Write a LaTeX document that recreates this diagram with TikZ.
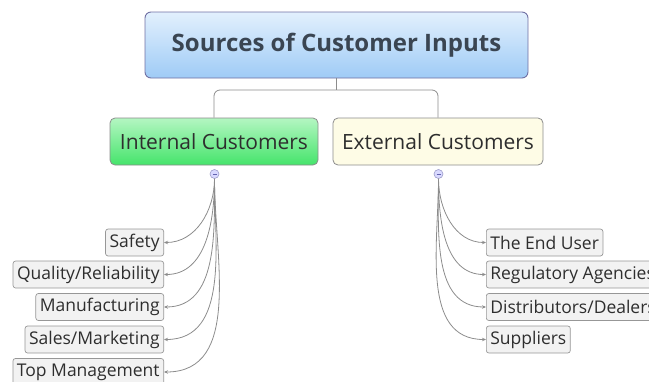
\documentclass[tikz,border=0pt]{standalone}
\usepackage{fontspec}
\setmainfont{Open Sans}
\usetikzlibrary{arrows.meta}
\definecolor{TitleInk}{HTML}{3A4552}
\definecolor{BodyInk}{HTML}{2E2E2E}
\definecolor{SkyTop}{HTML}{E2F0FD}
\definecolor{SkyBottom}{HTML}{9FCBF6}
\definecolor{MintTop}{HTML}{B4F6C2}
\definecolor{MintBottom}{HTML}{45E46B}
\definecolor{Cream}{HTML}{FEFCE6}
\definecolor{LinkGrey}{HTML}{8C8C8C}

\tikzset{
  rootbox/.style={draw=LinkGrey!80!blue, line width=0.9pt, rounded corners=6pt,
    top color=SkyTop, bottom color=SkyBottom,
    minimum width=383pt, minimum height=66pt,
    font=\fontsize{24}{28}\selectfont\bfseries, text=TitleInk},
  groupbox/.style={draw=LinkGrey, line width=0.8pt, rounded corners=5pt,
    minimum height=47pt, inner xsep=7pt,
    font=\fontsize{21}{25}\selectfont, text=BodyInk},
  leafbox/.style={draw=LinkGrey!90, fill=black!5, line width=0.7pt,
    rounded corners=2.5pt, minimum height=27pt, inner xsep=4pt,
    font=\fontsize{17.5}{20}\selectfont, text=BodyInk},
  knob/.style={circle, draw=blue!30!gray!60, fill=blue!15, line width=0.6pt,
    minimum size=9pt, inner sep=0pt},
  link/.style={draw=LinkGrey, line width=0.8pt},
  leaflink/.style={link, -{Stealth[length=4pt,width=3.5pt]}, out=-90, in=0}
}

\begin{document}
\begin{tikzpicture}[x=1pt, y=-1pt]
  \useasboundingbox (0,0) rectangle (649,381);

  % top of the map
  \node[rootbox] (root) at (336.5,45) {Sources of Customer Inputs};

  % the two branches
  \node[groupbox, top color=MintTop, bottom color=MintBottom,
        minimum width=208pt] (internal) at (214,141.5) {Internal Customers};
  \node[groupbox, fill=Cream, minimum width=210pt] (external) at (438,141.5)
        {External Customers};

  \coordinate (split) at (336.5,90);
  \draw[link] (root.south) -- (split);
  \draw[link, rounded corners=6pt] (split) -| (internal.north);
  \draw[link, rounded corners=6pt] (split) -| (external.north);

  % collapse buttons
  \node[knob] (inknob) at (214.5,174) {};
  \node[knob] (exknob) at (438.5,174) {};
  \draw[LinkGrey!70!blue, line width=0.8pt] ([xshift=-2pt]inknob.center) -- ([xshift=2pt]inknob.center);
  \draw[LinkGrey!70!blue, line width=0.8pt] ([xshift=-2pt]exknob.center) -- ([xshift=2pt]exknob.center);

  % internal leaves
  \node[leafbox, anchor=east] (safety)  at (164,242.5) {Safety};
  \node[leafbox, anchor=east] (quality) at (164,274.5) {Quality/Reliability};
  \node[leafbox, anchor=east] (manuf)   at (164,307)   {Manufacturing};
  \node[leafbox, anchor=east] (sales)   at (164,339.5) {Sales/Marketing};
  \node[leafbox, anchor=east] (topmgmt) at (164,372)   {Top Management};

  % external leaves
  \node[leafbox, anchor=west] (enduser)   at (486,242.5) {The End User};
  \node[leafbox, anchor=west] (regul)     at (486,274.5) {Regulatory Agencies};
  \node[leafbox, anchor=west] (distrib)   at (486,307)   {Distributors/Dealers};
  \node[leafbox, anchor=west] (suppliers) at (486,339.5) {Suppliers};

  \foreach \leaf in {safety,quality,manuf,sales,topmgmt}
    \draw[leaflink, in=0] (inknob.south) to (\leaf.east);
  \foreach \leaf in {enduser,regul,distrib,suppliers}
    \draw[leaflink, in=180] (exknob.south) to (\leaf.west);
\end{tikzpicture}
\end{document}
